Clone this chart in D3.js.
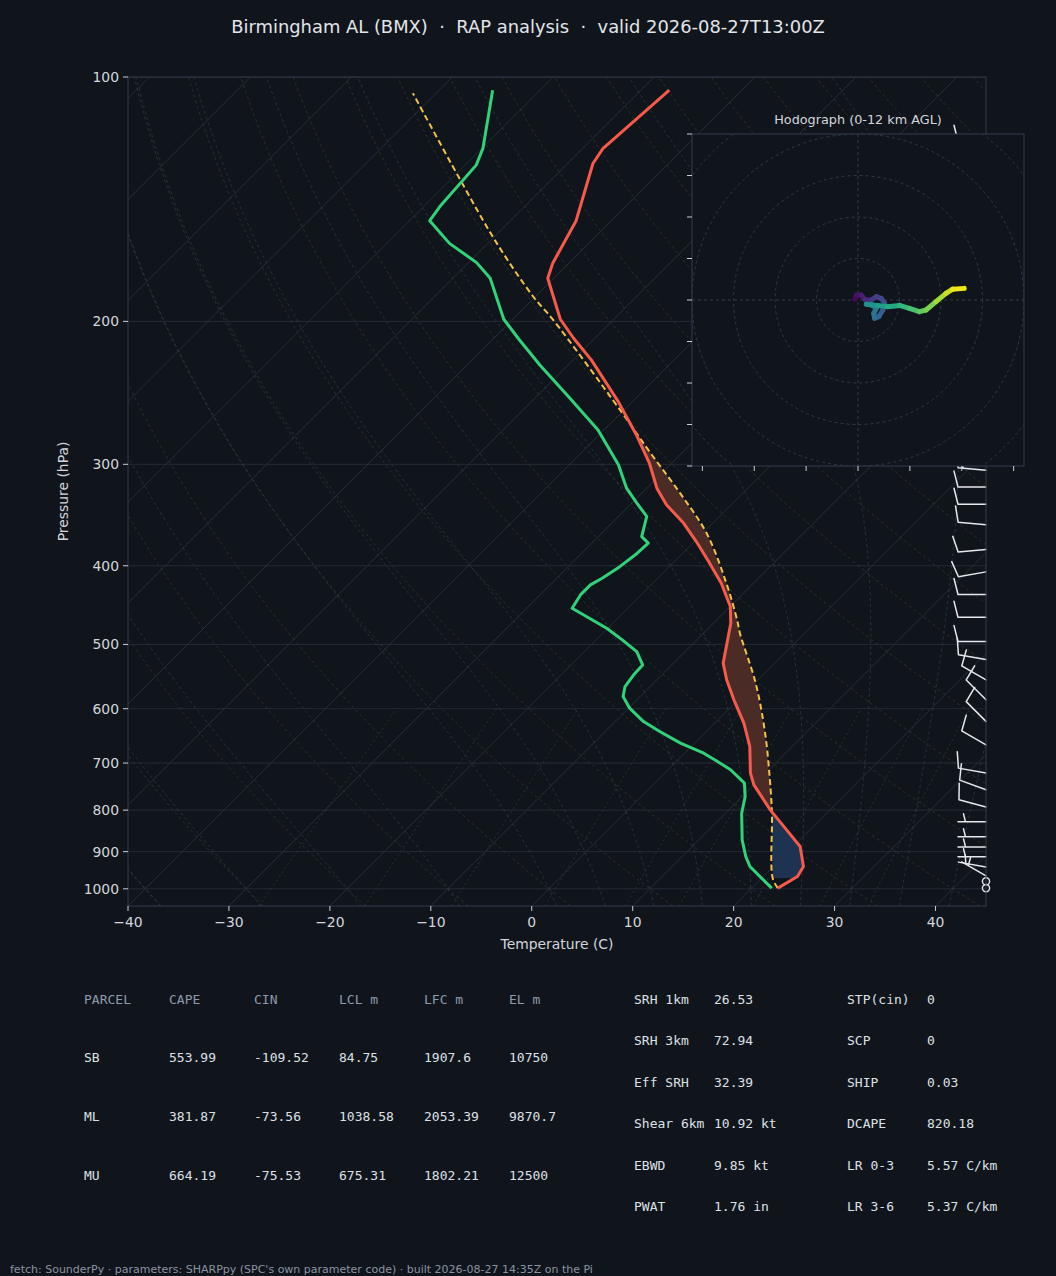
<!DOCTYPE html>
<html>
<head>
<meta charset="utf-8">
<script src="https://cdn.jsdelivr.net/npm/d3@7"></script>
<style>
  html, body { margin: 0; padding: 0; background: #10151c; }
  svg { display: block; }
  text { font-family: "DejaVu Sans", sans-serif; }
  .mono { font-family: "DejaVu Sans Mono", monospace; }
</style>
</head>
<body>
<svg id="chart" width="1056" height="1276"></svg>
<script>
// sounding values (surface first)
const tempP = [998, 965.8, 938.7, 887.1, 846.0, 799.4, 744.6, 720.3, 667.9, 625.1, 585.1, 552.8, 527.2, 470.8, 449.0, 420.3, 395.3, 373.5, 354.4, 336.5, 321.0, 299.1, 276.0, 251.1, 223.1, 209.8, 198.8, 177.0, 169.6, 150.3, 127.8, 122.4, 103.8];
const tempC = [22.6, 23.4, 23.0, 20.7, 17.7, 14.1, 10.0, 8.5, 5.8, 2.9, -0.4, -3.1, -5.1, -8.3, -10.0, -13.2, -16.6, -19.8, -22.9, -26.4, -29.0, -32.2, -36.3, -41.4, -48.2, -52.1, -55.3, -60.6, -61.6, -63.5, -67.5, -68.0, -67.2];

const dewP = [998, 970.1, 938.7, 912.5, 870.6, 807.0, 769.8, 741.1, 713.5, 695.6, 680.7, 661.6, 640.2, 622.3, 599.1, 579.7, 563.5, 545.1, 529.9, 510.3, 493.6, 477.5, 451.2, 434.5, 422.3, 414.4, 401.0, 386.0, 375.2, 368.3, 347.8, 334.9, 321.0, 300.5, 272.1, 249.9, 226.3, 209.8, 198.8, 177.0, 169.3, 160.3, 150.3, 144.4, 128.4, 122.4, 103.8];
const dewC = [22.0, 20.0, 17.7, 16.3, 14.3, 11.6, 10.3, 8.9, 6.2, 3.9, 1.9, -1.4, -4.6, -7.2, -9.9, -11.7, -12.5, -12.8, -12.9, -14.8, -17.4, -20.1, -25.5, -26.0, -26.0, -25.5, -24.9, -24.5, -24.4, -25.7, -27.2, -29.5, -32.0, -35.1, -40.6, -46.2, -52.8, -57.6, -60.9, -66.3, -69.2, -73.8, -78.0, -78.4, -78.9, -79.9, -84.7];

const parcelP = [998, 970.1, 807.0, 734.3, 643.2, 558.0, 484.4, 466.4, 420.3, 364.8, 325.6, 290.6, 257.1, 199.3, 186.5, 160.3, 132.7, 104.7];
const parcelC = [22.6, 21.1, 14.6, 11.1, 6.0, 0.1, -6.4, -8.0, -12.7, -19.6, -26.2, -33.1, -40.4, -55.9, -60.2, -69.1, -79.5, -92.3];

// wind barbs (hPa, direction deg, speed kt)
const barbP = [120, 150, 180, 210, 240, 270, 305, 320, 336, 356, 382, 407, 434, 463, 496, 522, 553, 585, 622, 665, 720, 755, 793, 827, 863, 888, 913, 940, 964, 979, 998];
const barbDir = [270, 270, 270, 270, 275, 275, 275, 270, 270, 275, 265, 260, 270, 270, 270, 280, 300, 315, 315, 300, 280, 290, 285, 270, 270, 270, 270, 280, 300, 0, 0];
const barbSpd = [10, 25, 25, 25, 20, 20, 15, 10, 10, 10, 10, 10, 10, 10, 10, 10, 10, 10, 10, 10, 10, 10, 10, 5, 5, 5, 5, 5, 5, 0, 0];

// hodograph trace (kt) and height (km AGL)
const hodoU = [-0.8, -0.4, 0.8, 1.8, 3.2, 4.4, 5.6, 6.4, 6.0, 5.0, 4.0, 3.8, 4.4, 3.3, 2.0, 4.7, 7.1, 10.0, 12.4, 14.8, 16.4, 18.8, 21.2, 22.8, 25.6];
const hodoV = [0.2, 1.2, 1.2, 0.0, 0.0, 0.8, 0.4, -0.8, -2.4, -4.0, -4.4, -3.2, -2.0, -1.2, -1.0, -1.3, -1.6, -1.3, -2.0, -2.8, -2.4, -0.4, 1.6, 2.6, 2.8];
const hodoH = [0, 0.4, 0.8, 1.2, 1.7, 2.1, 2.5, 2.9, 3.3, 3.7, 4.1, 4.5, 4.9, 5.3, 5.8, 6.4, 7.0, 7.6, 8.2, 8.8, 9.3, 10.0, 10.8, 11.4, 12.0];

// axis ticks
const pTicks = [100, 200, 300, 400, 500, 600, 700, 800, 900, 1000];
const tTicks = [-40, -30, -20, -10, 0, 10, 20, 30, 40];
const hodoVTicks = [-40, -30, -20, -10, 0, 10, 20, 30, 40];
const hodoUTicks = [-37.5, -25, -12.5, 0, 12.5, 25, 37.5];
const hodoRings = [10, 20, 30, 40, 50];

// parcel table
const tableHead = ["PARCEL", "CAPE", "CIN", "LCL m", "LFC m", "EL m"];
const parcelNames = ["SB", "ML", "MU"];
const capeVals = ["553.99", "381.87", "664.19"];
const cinVals = ["-109.52", "-73.56", "-75.53"];
const lclVals = ["84.75", "1038.58", "675.31"];
const lfcVals = ["1907.6", "2053.39", "1802.21"];
const elVals = ["10750", "9870.7", "12500"];

// index table
const idxNamesA = ["SRH 1km", "SRH 3km", "Eff SRH", "Shear 6km", "EBWD", "PWAT"];
const idxValsA = ["26.53", "72.94", "32.39", "10.92 kt", "9.85 kt", "1.76 in"];
const idxNamesB = ["STP(cin)", "SCP", "SHIP", "DCAPE", "LR 0-3", "LR 3-6"];
const idxValsB = ["0", "0", "0.03", "820.18", "5.57 C/km", "5.37 C/km"];

const titleText = "Birmingham AL (BMX)  \u00b7  RAP analysis  \u00b7  valid 2026-08-27T13:00Z";
const footText = "fetch: SounderPy \u00b7 parameters: SHARPpy (SPC's own parameter code) \u00b7 built 2026-08-27 14:35Z on the Pi";

const svg = d3.select("#chart");
const bg = "#10151c";
const textCol = "#d3d7dd";
const spineCol = "#323c4a";

svg.append("rect").attr("width", 1056).attr("height", 1276).attr("fill", bg);

const plot = { left: 128, right: 986, top: 77, bottom: 906 };
const x = d3.scaleLinear().domain([-40, 45]).range([plot.left, plot.right]);
const y = d3.scaleLog().domain([1050, 100]).range([plot.bottom, plot.top]);
// 45 degree skew in screen space
const skewX = (t, p) => x(t) + (plot.bottom - y(p));

svg.append("clipPath").attr("id", "plotClip")
  .append("rect")
  .attr("x", plot.left).attr("y", plot.top)
  .attr("width", plot.right - plot.left).attr("height", plot.bottom - plot.top);

const g = svg.append("g").attr("clip-path", "url(#plotClip)");

// thermo constants
const Rd = 287.04749, Cp = 1004.6662, Lv = 2.50084e6, eps = 0.62195691;
const kappa = Rd / Cp;
const satVap = tk => 6.112 * Math.exp(17.67 * (tk - 273.15) / (tk - 29.65));

const pGrid = d3.range(0, 61).map(i => 1050 * Math.pow(100 / 1050, i / 60));
const lineTP = d3.line().x(d => skewX(d[1], d[0])).y(d => y(d[0]));

// pressure grid lines
g.selectAll(".pgrid").data(pTicks).join("line")
  .attr("x1", plot.left).attr("x2", plot.right)
  .attr("y1", d => y(d)).attr("y2", d => y(d))
  .attr("stroke", "#262d37").attr("stroke-width", 0.9);

// isotherms
g.selectAll(".iso").data(d3.range(-130, 50, 10)).join("line")
  .attr("x1", d => skewX(d, 1050)).attr("y1", y(1050))
  .attr("x2", d => skewX(d, 100)).attr("y2", y(100))
  .attr("stroke", "#29313b").attr("stroke-width", 0.9);

// dry adiabats
const dryT0 = d3.range(-40, 246, 10);
dryT0.forEach(t0 => {
  const pts = pGrid.map(p => [p, (t0 + 273.15) * Math.pow(p / 1000, kappa) - 273.15]);
  g.append("path").attr("d", lineTP(pts))
    .attr("fill", "none").attr("stroke", "#5b4a2e").attr("stroke-opacity", 0.5)
    .attr("stroke-width", 0.9).attr("stroke-dasharray", "3,3");
});

// moist adiabats, integrated from 1000 hPa
function moistPath(t0) {
  const dTdlnp = (tk, p) => {
    const es = satVap(tk);
    const rs = eps * es / (p - es);
    return (Rd * tk + Lv * rs) / (Cp + (Lv * Lv * rs * eps) / (Rd * tk * tk));
  };
  const run = (pEnd, n) => {
    const out = [];
    let tk = t0 + 273.15, lp = Math.log(1000);
    const h = (Math.log(pEnd) - lp) / n;
    out.push([1000, tk - 273.15]);
    for (let i = 0; i < n; i++) {
      const k1 = dTdlnp(tk, Math.exp(lp));
      const k2 = dTdlnp(tk + h * k1 / 2, Math.exp(lp + h / 2));
      const k3 = dTdlnp(tk + h * k2 / 2, Math.exp(lp + h / 2));
      const k4 = dTdlnp(tk + h * k3, Math.exp(lp + h));
      tk += h * (k1 + 2 * k2 + 2 * k3 + k4) / 6;
      lp += h;
      out.push([Math.exp(lp), tk - 273.15]);
    }
    return out;
  };
  const up = run(100, 60);
  const down = run(1050, 4).reverse();
  return down.concat(up.slice(1));
}
const moistT0 = d3.range(-40, 0, 10).concat(d3.range(0, 46, 5));
moistT0.forEach(t0 => {
  g.append("path").attr("d", lineTP(moistPath(t0)))
    .attr("fill", "none").attr("stroke", "#2c5360").attr("stroke-opacity", 0.55)
    .attr("stroke-width", 0.9).attr("stroke-dasharray", "3,3");
});

// mixing ratio lines
const mixW = [0.0004, 0.001, 0.002, 0.004, 0.007, 0.01, 0.016, 0.024, 0.032];
mixW.forEach(w => {
  const pts = d3.range(0, 11).map(i => {
    const p = 1050 - i * 45;
    const e = p * w / (eps + w);
    const l = Math.log(e / 6.112);
    return [p, 243.5 * l / (17.67 - l)];
  });
  g.append("path").attr("d", lineTP(pts))
    .attr("fill", "none").attr("stroke", "#2f4a3a").attr("stroke-opacity", 0.7)
    .attr("stroke-width", 0.9).attr("stroke-dasharray", "2,3");
});

// CAPE / CIN shading
function interpLogP(ps, ts, p) {
  const lp = Math.log(p);
  for (let i = 0; i < ps.length - 1; i++) {
    const a = Math.log(ps[i]), b = Math.log(ps[i + 1]);
    if (lp <= a && lp >= b) return ts[i] + (lp - a) / (b - a) * (ts[i + 1] - ts[i]);
  }
  return NaN;
}
const fineP = d3.range(0, 501).map(i => 970.1 * Math.pow(250 / 970.1, i / 500));
const shade = fineP.map(p => ({
  p: p,
  t: interpLogP(tempP, tempC, p),
  tp: interpLogP(parcelP, parcelC, p)
}));
const shadeArea = d3.area()
  .x0(d => skewX(d.t, d.p)).x1(d => skewX(d.tp, d.p)).y(d => y(d.p));
g.append("path")
  .attr("d", shadeArea.defined(d => d.p >= 805 && d.t >= d.tp)(shade))
  .attr("fill", "#1e3352");
g.append("path")
  .attr("d", shadeArea.defined(d => d.p <= 810 && d.tp >= d.t)(shade))
  .attr("fill", "#4a2b25");

// profiles
const toPairs = (ps, ts) => ps.map((p, i) => [p, ts[i]]);
g.append("path").attr("d", lineTP.curve(d3.curveCatmullRom)(toPairs(parcelP, parcelC)))
  .attr("fill", "none").attr("stroke", "#f2c14e").attr("stroke-width", 2)
  .attr("stroke-dasharray", "6,3.5");
lineTP.curve(d3.curveLinear);
g.append("path").attr("d", lineTP(toPairs(tempP, tempC)))
  .attr("fill", "none").attr("stroke", "#f65a4a").attr("stroke-width", 3)
  .attr("stroke-linejoin", "round");
g.append("path").attr("d", lineTP(toPairs(dewP, dewC)))
  .attr("fill", "none").attr("stroke", "#32d27a").attr("stroke-width", 3)
  .attr("stroke-linejoin", "round");

// wind barbs on the right edge
const barbL = 28, fullH = 16, halfH = 8, slant = 4, gap = 5;
const barbG = svg.append("g");
barbP.forEach((p, i) => {
  const x0 = plot.right, y0 = y(p);
  const spd = Math.round(barbSpd[i] / 5) * 5;
  if (spd < 5) {
    barbG.append("circle").attr("cx", x0).attr("cy", y0).attr("r", 3.6)
      .attr("fill", "none").attr("stroke", "#e6e8eb").attr("stroke-width", 1.4);
    return;
  }
  const a = barbDir[i] * Math.PI / 180;
  const sx = Math.sin(a), sy = -Math.cos(a);
  const nx = -sy, ny = sx;
  let d = `M${x0},${y0}L${x0 + sx * barbL},${y0 + sy * barbL}`;
  let rem = spd;
  const full = Math.floor(rem / 10);
  rem -= full * 10;
  let off = barbL;
  for (let k = 0; k < full; k++) {
    const bx = x0 + sx * off, by = y0 + sy * off;
    d += `M${bx},${by}L${bx + nx * fullH + sx * slant},${by + ny * fullH + sy * slant}`;
    off -= gap;
  }
  if (rem >= 5) {
    if (off === barbL) off -= 1.5 * gap;
    const bx = x0 + sx * off, by = y0 + sy * off;
    d += `M${bx},${by}L${bx + nx * halfH + sx * slant / 2},${by + ny * halfH + sy * slant / 2}`;
  }
  barbG.append("path").attr("d", d).attr("fill", "none")
    .attr("stroke", "#e6e8eb").attr("stroke-width", 1.5).attr("stroke-linecap", "round");
});

// spines and ticks
svg.append("rect")
  .attr("x", plot.left).attr("y", plot.top)
  .attr("width", plot.right - plot.left).attr("height", plot.bottom - plot.top)
  .attr("fill", "none").attr("stroke", spineCol).attr("stroke-width", 1);

const yTickG = svg.append("g");
pTicks.forEach(p => {
  yTickG.append("line").attr("x1", plot.left - 5).attr("x2", plot.left)
    .attr("y1", y(p)).attr("y2", y(p)).attr("stroke", "#c9ced6").attr("stroke-width", 1);
  yTickG.append("text").attr("x", plot.left - 9).attr("y", y(p) + 5)
    .attr("text-anchor", "end").attr("font-size", 13.9).attr("fill", textCol).text(p);
});
const xTickG = svg.append("g");
tTicks.forEach(t => {
  xTickG.append("line").attr("x1", x(t)).attr("x2", x(t))
    .attr("y1", plot.bottom).attr("y2", plot.bottom + 5).attr("stroke", "#c9ced6").attr("stroke-width", 1);
  xTickG.append("text").attr("x", x(t)).attr("y", plot.bottom + 21)
    .attr("text-anchor", "middle").attr("font-size", 13.9).attr("fill", textCol)
    .text(t < 0 ? "\u2212" + Math.abs(t) : t);
});
svg.append("text").attr("x", (plot.left + plot.right) / 2).attr("y", 949)
  .attr("text-anchor", "middle").attr("font-size", 13.9).attr("fill", textCol)
  .text("Temperature (C)");
svg.append("text").attr("transform", `translate(68,${(plot.top + plot.bottom) / 2}) rotate(-90)`)
  .attr("text-anchor", "middle").attr("font-size", 13.9).attr("fill", textCol)
  .text("Pressure (hPa)");

svg.append("text").attr("x", 528).attr("y", 33).attr("text-anchor", "middle")
  .attr("font-size", 17.9).attr("fill", "#e2e5ea").style("white-space", "pre")
  .text(titleText);

// hodograph inset
const hodo = { left: 692, right: 1024, top: 134, bottom: 466 };
const hu = d3.scaleLinear().domain([-40, 40]).range([hodo.left, hodo.right]);
const hv = d3.scaleLinear().domain([-40, 40]).range([hodo.bottom, hodo.top]);
svg.append("rect").attr("x", hodo.left).attr("y", hodo.top)
  .attr("width", hodo.right - hodo.left).attr("height", hodo.bottom - hodo.top)
  .attr("fill", bg);
svg.append("clipPath").attr("id", "hodoClip").append("rect")
  .attr("x", hodo.left).attr("y", hodo.top)
  .attr("width", hodo.right - hodo.left).attr("height", hodo.bottom - hodo.top);
const hg = svg.append("g").attr("clip-path", "url(#hodoClip)");
hg.selectAll("circle").data(hodoRings).join("circle")
  .attr("cx", hu(0)).attr("cy", hv(0)).attr("r", d => hu(d) - hu(0))
  .attr("fill", "none").attr("stroke", "#2e3a48").attr("stroke-width", 1)
  .attr("stroke-dasharray", "3,3");
hg.append("line").attr("x1", hodo.left).attr("x2", hodo.right).attr("y1", hv(0)).attr("y2", hv(0))
  .attr("stroke", "#2e3a48").attr("stroke-dasharray", "3,3");
hg.append("line").attr("y1", hodo.top).attr("y2", hodo.bottom).attr("x1", hu(0)).attr("x2", hu(0))
  .attr("stroke", "#2e3a48").attr("stroke-dasharray", "3,3");
for (let i = 0; i < hodoU.length - 1; i++) {
  hg.append("line")
    .attr("x1", hu(hodoU[i])).attr("y1", hv(hodoV[i]))
    .attr("x2", hu(hodoU[i + 1])).attr("y2", hv(hodoV[i + 1]))
    .attr("stroke", d3.interpolateViridis((hodoH[i] + hodoH[i + 1]) / 24))
    .attr("stroke-width", 5).attr("stroke-linecap", "round");
}
svg.append("rect").attr("x", hodo.left).attr("y", hodo.top)
  .attr("width", hodo.right - hodo.left).attr("height", hodo.bottom - hodo.top)
  .attr("fill", "none").attr("stroke", spineCol).attr("stroke-width", 1);
hodoVTicks.forEach(v => {
  svg.append("line").attr("x1", hodo.left - 5).attr("x2", hodo.left)
    .attr("y1", hv(v)).attr("y2", hv(v)).attr("stroke", "#c9ced6");
});
hodoUTicks.forEach(u => {
  svg.append("line").attr("x1", hu(u)).attr("x2", hu(u))
    .attr("y1", hodo.bottom).attr("y2", hodo.bottom + 5).attr("stroke", "#c9ced6");
});
svg.append("text").attr("x", (hodo.left + hodo.right) / 2).attr("y", 124)
  .attr("text-anchor", "middle").attr("font-size", 12.8).attr("fill", textCol)
  .text("Hodograph (0-12 km AGL)");

// parcel table
const colX = [84, 169, 254, 339, 424, 509];
const rowY = [1004, 1062, 1121, 1180];
tableHead.forEach((h, j) => {
  svg.append("text").attr("class", "mono").attr("x", colX[j]).attr("y", rowY[0])
    .attr("font-size", 13).attr("fill", "#8d9bad").text(h);
});
const tableCols = [parcelNames, capeVals, cinVals, lclVals, lfcVals, elVals];
parcelNames.forEach((n, r) => {
  tableCols.forEach((col, j) => {
    svg.append("text").attr("class", "mono").attr("x", colX[j]).attr("y", rowY[r + 1])
      .attr("font-size", 13).attr("fill", "#dde1e6").text(col[r]);
  });
});

// index table
const idxY = idxNamesA.map((d, i) => 1004 + i * 41.4);
idxNamesA.forEach((n, i) => {
  svg.append("text").attr("class", "mono").attr("x", 634).attr("y", idxY[i])
    .attr("font-size", 13).attr("fill", "#dde1e6").style("white-space", "pre").text(n);
  svg.append("text").attr("class", "mono").attr("x", 714).attr("y", idxY[i])
    .attr("font-size", 13).attr("fill", "#dde1e6").text(idxValsA[i]);
  svg.append("text").attr("class", "mono").attr("x", 847).attr("y", idxY[i])
    .attr("font-size", 13).attr("fill", "#dde1e6").text(idxNamesB[i]);
  svg.append("text").attr("class", "mono").attr("x", 927).attr("y", idxY[i])
    .attr("font-size", 13).attr("fill", "#dde1e6").text(idxValsB[i]);
});

svg.append("text").attr("x", 10).attr("y", 1273).attr("font-size", 11)
  .attr("fill", "#8a94a1").text(footText);
</script>
</body>
</html>
